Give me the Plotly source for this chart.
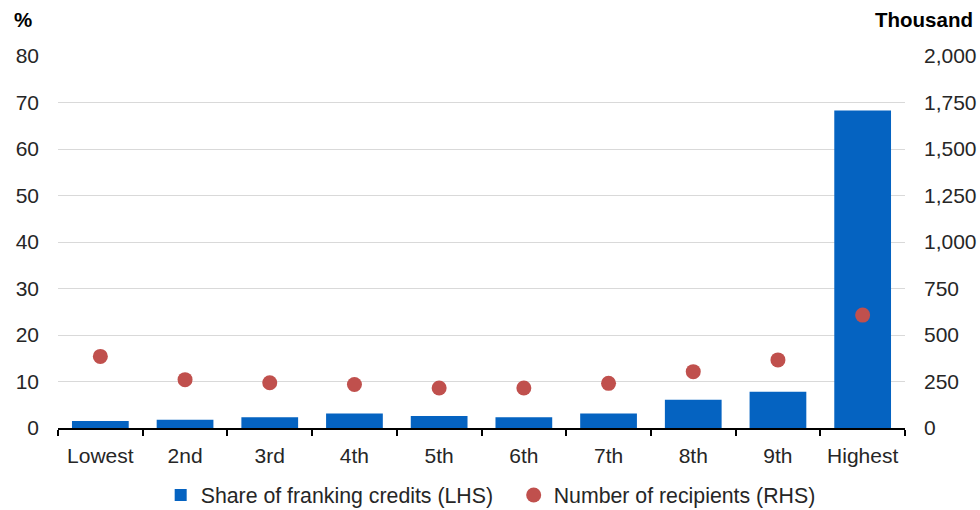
import plotly.graph_objects as go

# Income deciles
categories = ["Lowest", "2nd", "3rd", "4th", "5th", "6th", "7th", "8th", "9th", "Highest"]
# Share of franking credits, per cent (left axis)
share_pct = [1.5, 1.8, 2.3, 3.1, 2.6, 2.3, 3.1, 6.1, 7.8, 68.3]
# Number of recipients, thousand (right axis)
recipients_k = [385, 260, 243, 234, 215, 215, 240, 303, 366, 607]

left_ticks = list(range(0, 81, 10))
right_ticks = list(range(0, 2001, 250))

FONT = "Liberation Sans, Arial, sans-serif"
TXT = "#262626"
FS = 21

fig = go.Figure()
fig.add_trace(go.Bar(
    x=categories, y=share_pct, name="Share of franking credits (LHS)",
    marker=dict(color="#0563C1", line=dict(width=0)), yaxis="y",
))
fig.add_trace(go.Scatter(
    x=categories, y=recipients_k, name="Number of recipients (RHS)",
    mode="markers", marker=dict(color="#C0504D", size=15), yaxis="y2",
))

fig.update_layout(
    width=980, height=510,
    margin=dict(l=58, r=75, t=56, b=82),
    paper_bgcolor="white", plot_bgcolor="white",
    font=dict(family=FONT, size=FS, color=TXT),
    bargap=0.33,
    showlegend=True,
    legend=dict(orientation="h", x=0.538, xanchor="center", yref="container",
                y=0.029, yanchor="middle", font=dict(size=21.3, color=TXT),
                itemwidth=30, traceorder="normal", entrywidth=308),
    xaxis=dict(
        range=[-0.5, len(categories) - 0.5],
        showline=True, linecolor="black", linewidth=2, automargin=False,
        ticks="outside", tickson="boundaries", ticklen=6, tickwidth=2, tickcolor="black",
        showgrid=False, tickfont=dict(size=FS, color=TXT), ticklabelstandoff=8,
    ),
    yaxis=dict(
        range=[0, 80], tickvals=left_ticks, showgrid=True, gridcolor="#D9D9D9", gridwidth=1,
        zeroline=False, showline=False, ticks="", ticklabelstandoff=18, automargin=False,
        tickfont=dict(size=FS, color=TXT),
    ),
    yaxis2=dict(
        range=[0, 2000], tickvals=right_ticks, tickformat=",", overlaying="y", side="right",
        showgrid=False, zeroline=False, showline=False, ticks="", ticklabelstandoff=18,
        automargin=False, tickfont=dict(size=FS, color=TXT),
    ),
    annotations=[
        dict(text="<b>%</b>", xref="paper", yref="paper", x=0, xshift=-46, y=1.0, yshift=37,
             xanchor="left", yanchor="middle", showarrow=False, font=dict(size=20.5, color="black")),
        dict(text="<b>Thousand</b>", xref="paper", yref="paper", x=1.0, xshift=70, y=1.0, yshift=37,
             xanchor="right", yanchor="middle", showarrow=False, font=dict(size=20.5, color="black")),
    ],
)

fig.write_html("out.html")
